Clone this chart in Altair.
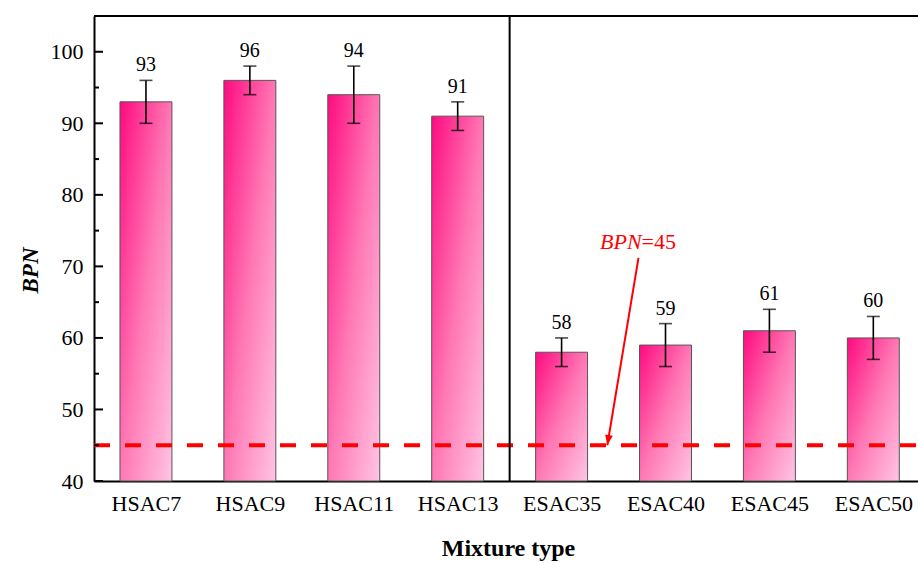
import json
import altair as alt
import pandas as pd

# Mixture types and BPN results
mixtures = ["HSAC7", "HSAC9", "HSAC11", "HSAC13", "ESAC35", "ESAC40", "ESAC45", "ESAC50"]
bpn_mean = [93, 96, 94, 91, 58, 59, 61, 60]
bpn_low = [90, 94, 90, 89, 56, 56, 58, 57]
bpn_high = [96, 98, 98, 93, 60, 62, 64, 63]

# Axis settings
y_ticks = [40, 50, 60, 70, 80, 90, 100]
y_minor = [45, 55, 65, 75, 85, 95]
y_domain = [40, 105]
x_domain = [-0.5, 7.43]
threshold = 45
group_split = 3.5

# Annotation: label and arrow (data units)
note_x = 4.77
note_y = 72.45
arrow_x = [4.74, 4.44]
arrow_y = [71.2, 45.0]

W, H = 824, 465
FONT = "Liberation Serif"

df = pd.DataFrame({
    "idx": list(range(len(mixtures))),
    "name": mixtures,
    "mean": bpn_mean,
    "lo": bpn_low,
    "hi": bpn_high,
})

xs = alt.Scale(domain=x_domain, nice=False, zero=False)
ys = alt.Scale(domain=y_domain, nice=False, zero=False)

label_expr = json.dumps(mixtures) + "[datum.value]"

x_axis = alt.Axis(
    values=list(range(len(mixtures))), labelExpr=label_expr, grid=False, ticks=False,
    domainColor="black", domainWidth=2, labelFont=FONT, labelFontSize=22,
    labelColor="black", labelPadding=12, title="Mixture type", titleFont=FONT,
    titleFontSize=24, titleFontWeight="bold", titleColor="black",
    titleBaseline="alphabetic", titleY=74, titleX=W / 2 + 2,
)
y_axis = alt.Axis(
    values=y_ticks, grid=False, ticks=False, domainColor="black", domainWidth=2,
    labelFont=FONT, labelFontSize=22, labelColor="black", labelPadding=11,
    title="BPN", titleFont=FONT, titleFontSize=23, titleFontWeight="bold",
    titleFontStyle="italic", titleColor="black", titleBaseline="middle",
    titleAlign="center", titleX=-64, titleY=254, titleAngle=-90,
)

base = alt.Chart(df)

gradient = alt.Gradient(
    gradient="linear",
    stops=[alt.GradientStop(color="#ff0a80", offset=0),
           alt.GradientStop(color="#ff78b4", offset=0.5),
           alt.GradientStop(color="#ffc4e3", offset=1)],
    x1=0, y1=0, x2=1, y2=1,
)

bars = base.transform_calculate(
    x0="datum.idx - 0.25", x1="datum.idx + 0.25"
).mark_bar(fill=gradient, stroke="#555555", strokeWidth=1).encode(
    x=alt.X("x0:Q", scale=xs, axis=x_axis),
    x2="x1:Q",
    y=alt.Y("mean:Q", scale=ys, axis=y_axis),
    y2=alt.datum(y_domain[0]),
)

err = base.mark_rule(color="black", strokeWidth=1.6).encode(
    x=alt.X("idx:Q", scale=xs), y=alt.Y("lo:Q", scale=ys), y2="hi:Q"
)
cap_lo = base.mark_tick(color="black", orient="horizontal", size=13, thickness=1.6).encode(
    x=alt.X("idx:Q", scale=xs), y=alt.Y("lo:Q", scale=ys)
)
cap_hi = base.mark_tick(color="black", orient="horizontal", size=13, thickness=1.6).encode(
    x=alt.X("idx:Q", scale=xs), y=alt.Y("hi:Q", scale=ys)
)
labels = base.mark_text(font=FONT, fontSize=20, color="black", baseline="bottom", dy=-5).encode(
    x=alt.X("idx:Q", scale=xs), y=alt.Y("hi:Q", scale=ys), text="mean:Q"
)

major = alt.Chart(pd.DataFrame({"v": y_ticks})).mark_rule(color="black", strokeWidth=2).encode(
    y=alt.Y("v:Q", scale=ys), x=alt.value(0), x2=alt.value(9)
)
minor = alt.Chart(pd.DataFrame({"v": y_minor})).mark_rule(color="black", strokeWidth=2).encode(
    y=alt.Y("v:Q", scale=ys), x=alt.value(0), x2=alt.value(5)
)

top_line = alt.Chart(pd.DataFrame({"v": [y_domain[1]]})).mark_rule(color="black", strokeWidth=2).encode(
    y=alt.Y("v:Q", scale=ys), x=alt.value(0), x2=alt.value(W)
)
divider = alt.Chart(pd.DataFrame({"v": [group_split]})).mark_rule(color="black", strokeWidth=2).encode(
    x=alt.X("v:Q", scale=xs), y=alt.datum(y_domain[0]), y2=alt.datum(y_domain[1])
)

dashed = alt.Chart(pd.DataFrame({"v": [threshold]})).mark_rule(
    color="#ff0000", strokeWidth=4, strokeDash=[16, 15]
).encode(y=alt.Y("v:Q", scale=ys), x=alt.value(0), x2=alt.value(W))

arrow_df = pd.DataFrame({"x": arrow_x, "y": arrow_y, "o": [0, 1]})
arrow_line = alt.Chart(arrow_df).mark_line(color="#ff0000", strokeWidth=2).encode(
    x=alt.X("x:Q", scale=xs), y=alt.Y("y:Q", scale=ys), order="o:Q"
)
head = alt.Chart(arrow_df.iloc[[1]]).mark_point(
    shape="M0,0L-0.38,-1L0.38,-1Z", filled=True, size=420, angle=9.5,
    color="#ff0000", opacity=1,
).encode(x=alt.X("x:Q", scale=xs), y=alt.Y("y:Q", scale=ys))

note_df = pd.DataFrame({"x": [note_x], "y": [note_y]})
note_a = alt.Chart(note_df).mark_text(
    text="BPN", font=FONT, fontSize=22, fontStyle="italic", color="#ff0000",
    align="right", baseline="alphabetic",
).encode(x=alt.X("x:Q", scale=xs), y=alt.Y("y:Q", scale=ys))
note_b = alt.Chart(note_df).mark_text(
    text="=45", font=FONT, fontSize=22, color="#ff0000",
    align="left", baseline="alphabetic",
).encode(x=alt.X("x:Q", scale=xs), y=alt.Y("y:Q", scale=ys))

chart = alt.layer(
    bars, dashed, err, cap_lo, cap_hi, labels, major, minor, top_line, divider,
    arrow_line, head, note_a, note_b,
).properties(
    width=W, height=H,
    autosize=alt.AutoSizeParams(type="none"),
    padding={"left": 94, "top": 16, "right": 0, "bottom": 82},
    background="white",
).configure_view(stroke=None)

chart.save("out.html", embed_options={"renderer": "svg", "actions": False})
